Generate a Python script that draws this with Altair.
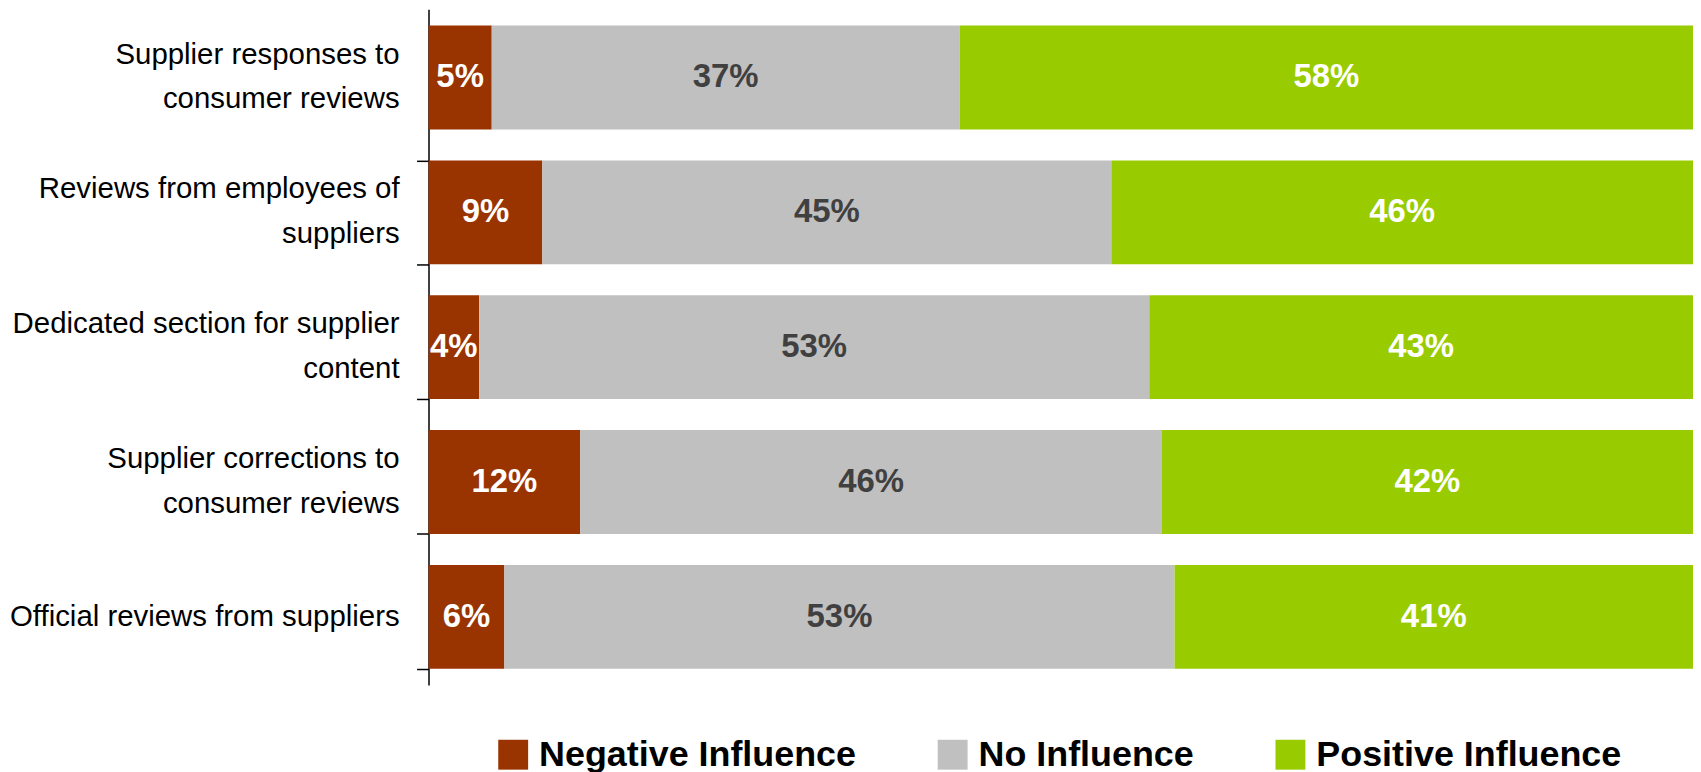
import altair as alt
import pandas as pd

categories = [
    "Supplier responses to|consumer reviews",
    "Reviews from employees of|suppliers",
    "Dedicated section for supplier|content",
    "Supplier corrections to|consumer reviews",
    "Official reviews from suppliers",
]
series = ["Negative Influence", "No Influence", "Positive Influence"]
negative = [5, 9, 4, 12, 6]
no_influence = [37, 45, 53, 46, 53]
positive = [58, 46, 43, 42, 41]
colors = ["#993300", "#C0C0C0", "#99CC00"]
text_colors = ["#FFFFFF", "#404040", "#FFFFFF"]

rows = []
for i, cat in enumerate(categories):
    for j, (s, vals) in enumerate(zip(series, [negative, no_influence, positive])):
        rows.append({"category": cat, "series": s, "value": vals[i], "order": j,
                     "tcolor": text_colors[j]})
df = pd.DataFrame(rows)
cat_df = pd.DataFrame({"category": categories,
                       "nlines": [len(c.split("|")) for c in categories]})

y_scale = alt.Scale(paddingInner=0.23, paddingOuter=0.12)
x_scale = alt.Scale(domain=[0, 100], nice=False, zero=True)

base = alt.Chart(df).transform_stack(
    stack="value", groupby=["category"], as_=["x0", "x1"],
    sort=[alt.SortField("order", order="ascending")]
).transform_calculate(
    mid="(datum.x0 + datum.x1) / 2",
    label="datum.value + '%'"
)

y_enc = alt.Y(
    "category:N", sort=categories, title=None, scale=y_scale,
    axis=alt.Axis(
        labels=False, values=categories[1:],
        tickBand="extent", tickSize=12, tickColor="#000000", tickWidth=1.5,
        domainColor="#000000", domainWidth=1.5, grid=False,
    ),
)

bars = base.mark_bar(stroke=None).encode(
    x=alt.X("x0:Q", scale=x_scale, axis=None),
    x2="x1:Q",
    y=y_enc,
    color=alt.Color(
        "series:N",
        scale=alt.Scale(domain=series, range=colors),
        legend=alt.Legend(
            title=None, orient="none", direction="horizontal",
            legendX=67, legendY=730,
            symbolType="square", symbolSize=900, symbolStrokeWidth=0,
            symbolOpacity=1,
            labelFont="Liberation Sans", labelFontSize=36, labelFontWeight="bold",
            labelColor="#000000", labelOffset=8, columnPadding=78, labelLimit=500,
        ),
    ),
)

texts = base.mark_text(
    font="Liberation Sans", fontSize=33, fontWeight="bold", baseline="middle", align="center"
).encode(
    x=alt.X("mid:Q", scale=x_scale, axis=None),
    y=alt.Y("category:N", sort=categories),
    text="label:N",
    color=alt.Color("tcolor:N", scale=None),
)

label_common = dict(font="Liberation Sans", fontSize=29.5, color="#000000",
                    align="right", baseline="middle", lineBreak="|", lineHeight=45)
cat_base = alt.Chart(cat_df)
labels2 = cat_base.transform_filter("datum.nlines == 2").mark_text(
    dy=-23, **label_common
).encode(
    x=alt.value(-29),
    y=alt.Y("category:N", sort=categories),
    text="category:N",
)
labels1 = cat_base.transform_filter("datum.nlines == 1").mark_text(
    dy=0, **label_common
).encode(
    x=alt.value(-29),
    y=alt.Y("category:N", sort=categories),
    text="category:N",
)

chart = alt.layer(bars, texts, labels2, labels1).properties(
    width=1269, height=678,
    autosize=alt.AutoSizeParams(type="none"),
    padding={"left": 422, "top": 0, "right": 0, "bottom": 92},
    background="#FFFFFF",
).configure_view(stroke=None)

chart.save("out.html", embed_options={"renderer": "svg", "actions": False})
